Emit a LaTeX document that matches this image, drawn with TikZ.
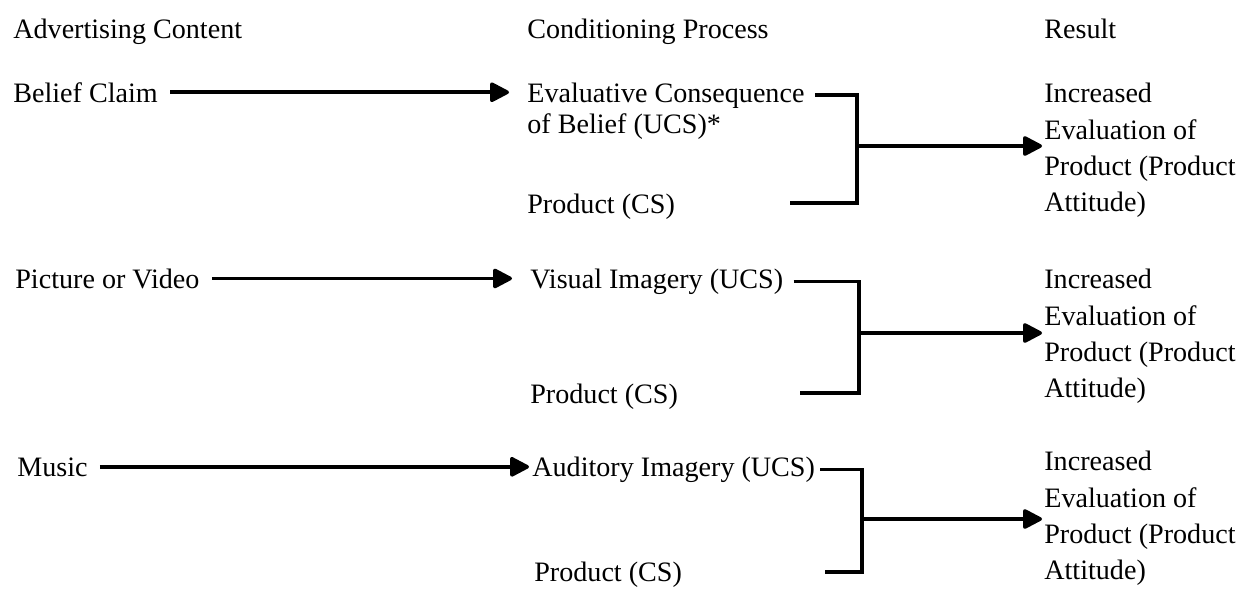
\documentclass[tikz,border=0pt]{standalone}
\usepackage{fontspec}
\setmainfont{Liberation Serif}
\usetikzlibrary{arrows.meta,positioning}

\begin{document}
\begin{tikzpicture}[x=0.02cm,y=-0.02cm,
   txt/.style={inner sep=0pt,anchor=base west,font=\fontsize{16}{20.7}\selectfont},
   res/.style={txt,align=left,anchor=north west},
   flow/.style={line width=2pt,-{Triangle[length=12pt,width=12pt,round]},
                shorten <=0.24cm,shorten >=0.36cm},
   link/.style={line width=2pt}]
\useasboundingbox (0,0) rectangle (1252,589);

% column heads
\node[txt] (hadv)  at (13,38)   {Advertising Content};
\node[txt] (hcond) at (527,38)  {Conditioning Process};
\node[txt] (hres)  at (1044,38) {Result};

% belief claim row
\node[txt] (belief) at (13,102)  {Belief Claim};
\node[txt] (ucs1)   at (527,102) {Evaluative Consequence};
\node[txt] (ucs1b)  at (527,133) {of Belief (UCS)*};
\node[txt] (cs1)    at (527,213) {Product (CS)};
\node[res] (res1)   at (1044,83) {Increased\\Evaluation of\\Product (Product\\Attitude)};
\coordinate (j1) at (857,146);
\coordinate (b1) at (790,203);

% picture or video row
\node[txt] (picture) at (15,288)  {Picture or Video};
\node[txt] (ucs2)    at (530,288) {Visual Imagery (UCS)};
\node[txt] (cs2)     at (530,403) {Product (CS)};
\node[res] (res2)    at (1044,269) {Increased\\Evaluation of\\Product (Product\\Attitude)};
\coordinate (j2) at (859,333);
\coordinate (b2) at (800,393);

% music row
\node[txt] (music) at (17,476)  {Music};
\node[txt] (ucs3)  at (532,476) {Auditory Imagery (UCS)};
\node[txt] (cs3)   at (534,581) {Product (CS)};
\node[res] (res3)  at (1044,451) {Increased\\Evaluation of\\Product (Product\\Attitude)};
\coordinate (j3) at (862,519);
\coordinate (b3) at (825,572);

% content -> conditioning
\draw[flow] (belief.east) -- (belief.east -| ucs1.west);
\draw[flow] (picture.east) -- (picture.east -| ucs2.west);
\draw[flow,shorten >=0.06cm] (music.east) -- (music.east -| ucs3.west);

% brackets joining UCS and CS
\draw[link,shorten <=0.2cm] (ucs1.east) -| (j1) |- (b1);
\draw[link,shorten <=0.2cm] (ucs2.east) -| (j2) |- (b2);
\draw[link,shorten <=0.1cm] (ucs3.east) -| (j3) |- (b3);

% conditioning -> result
\draw[flow,shorten <=0pt,shorten >=0.04cm] (j1) -- (j1 -| res1.west);
\draw[flow,shorten <=0pt,shorten >=0.04cm] (j2) -- (j2 -| res2.west);
\draw[flow,shorten <=0pt,shorten >=0.04cm] (j3) -- (j3 -| res3.west);
\end{tikzpicture}
\end{document}
